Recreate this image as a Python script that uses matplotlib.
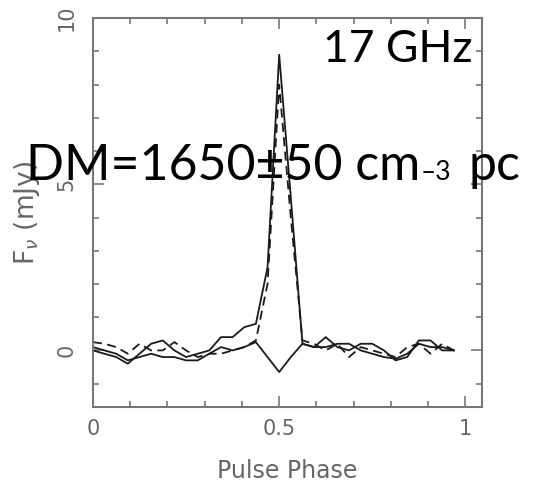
import numpy as np
import matplotlib.pyplot as plt

# pulse profile, 32 phase bins
phase = np.arange(32) / 32.0
# total intensity (solid, with peak)
flux_a = [0.0, -0.1, -0.2, -0.4, -0.1, 0.2, 0.3, 0.0, -0.2, -0.1, 0.0, 0.4,
          0.4, 0.7, 0.8, 2.5, 8.9, 4.6, 0.2, 0.1, 0.4, 0.1, 0.0, 0.2,
          0.2, 0.0, -0.3, -0.2, 0.3, 0.3, 0.0, 0.0]
# second profile (dashed)
flux_b = [0.25, 0.2, 0.1, -0.1, 0.2, 0.0, 0.0, 0.25, 0.0, -0.2, -0.1, -0.1,
          0.0, 0.1, 0.3, 2.0, 8.0, 4.0, 0.3, 0.2, 0.0, 0.2, -0.2, 0.1,
          0.0, -0.1, -0.2, 0.1, 0.2, -0.1, 0.2, 0.0]
# difference profile (solid, with dip)
flux_c = [0.1, 0.0, -0.1, -0.3, -0.2, -0.1, -0.2, -0.2, -0.3, -0.3, -0.1, 0.1,
          0.0, 0.1, 0.25, -0.2, -0.65, -0.2, 0.2, 0.1, 0.1, 0.2, 0.2, 0.0,
          -0.1, -0.2, -0.25, -0.1, 0.2, 0.1, 0.1, 0.0]

grey = '#666666'

fig = plt.figure(figsize=(5.34, 4.92), dpi=100)
ax = fig.add_axes([0.174, 0.173, 0.729, 0.790])

ax.plot(phase, flux_a, color='#1a1a1a', lw=1.3)
ax.plot(phase, flux_b, color='#1a1a1a', lw=1.3, dashes=(5, 3))
ax.plot(phase, flux_c, color='#1a1a1a', lw=1.3)

ax.set_xlim(0, 1.045)
ax.set_ylim(-1.7, 10)
ax.set_xticks([0, 0.5, 1])
ax.set_xticklabels(['0', '0.5', '1'])
ax.set_xticks(np.arange(0, 1.05, 0.1), minor=True)
ax.set_yticks([0, 5, 10])
ax.set_yticks(np.arange(-1, 10.5, 1), minor=True)

for s in ax.spines.values():
    s.set_color('#777777')
    s.set_linewidth(1.5)
ax.tick_params(which='both', direction='in', top=True, right=True,
               color='#777777', width=1.2, labelcolor=grey, labelsize=15)
ax.tick_params(which='major', length=8)
ax.tick_params(which='minor', length=4)
ax.tick_params(axis='x', pad=9)
ax.tick_params(axis='y', pad=12, labelrotation=90)
for lab in ax.get_yticklabels():
    lab.set_va('center')

ax.set_xlabel('Pulse Phase', fontsize=17, color=grey, labelpad=14)
ax.set_ylabel(r'F$_\nu$ (mJy)', fontsize=19, color=grey, labelpad=10)

# big annotation text
big = dict(family=['Lato', 'DejaVu Sans'], color='black', va='baseline')
fig.text(0.884, 0.874, '17 GHz', fontsize=32, ha='right', **big)
fig.text(0.049, 0.634, 'DM=1650\u00b150 cm', fontsize=36, **big)
fig.text(0.788, 0.634, '\u20133', fontsize=19, **big)
fig.text(0.878, 0.634, 'pc', fontsize=36, **big)

fig.savefig('out.png', dpi=100)
